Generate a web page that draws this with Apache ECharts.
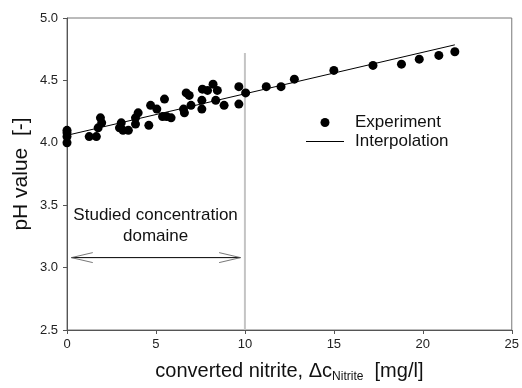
<!DOCTYPE html>
<html>
<head>
<meta charset="utf-8">
<script src="https://cdn.jsdelivr.net/npm/echarts@6/dist/echarts.min.js"></script>
<style>
  html, body { margin: 0; padding: 0; background: #fff; }
  #main { width: 522px; height: 388px; }
</style>
</head>
<body>
<div id="main"></div>
<script>
// measured points: [converted nitrite mg/l, pH]
const experiment = [
  [0, 4.10], [0, 4.08], [0, 4.05], [0, 4.00],
  [1.25, 4.05], [1.65, 4.05], [1.75, 4.12], [1.88, 4.20], [1.95, 4.16],
  [2.95, 4.12], [3.05, 4.16], [3.15, 4.10], [3.45, 4.10], [3.85, 4.15], [3.85, 4.20], [4.0, 4.24],
  [4.6, 4.14], [4.7, 4.30], [5.05, 4.27], [5.48, 4.35], [5.37, 4.21], [5.6, 4.21], [5.85, 4.20],
  [6.6, 4.24], [6.55, 4.27], [6.7, 4.40], [6.87, 4.38], [6.97, 4.30],
  [7.58, 4.34], [7.58, 4.27], [7.61, 4.43], [7.9, 4.42], [8.21, 4.47], [8.45, 4.42], [8.36, 4.34], [8.83, 4.30],
  [9.66, 4.45], [9.66, 4.31], [10.04, 4.40],
  [11.2, 4.45], [12.03, 4.45], [12.78, 4.51], [15.0, 4.58], [17.2, 4.62], [18.8, 4.63],
  [19.8, 4.67], [20.9, 4.70], [21.8, 4.73]
];
const interpolation = [[0, 4.06], [21.8, 4.785]];
const domainLimit = [[10, 2.5], [10, 4.72]];
const arrowShaft = [[0.25, 3.08], [9.75, 3.08]];
const arrowHeadLeft = [[1.45, 3.12], [0.25, 3.08], [1.45, 3.04]];
const arrowHeadRight = [[8.55, 3.12], [9.75, 3.08], [8.55, 3.04]];
const domainLabelPos = [[4.98, 3.335]];

const chart = echarts.init(document.getElementById('main'));
const font = 'Liberation Sans, Arial, sans-serif';

const thin = { color: '#000', width: 1 };

chart.setOption({
  animation: false,
  textStyle: { fontFamily: font },
  grid: { left: 67, right: 8, top: 18, bottom: 55, show: true, borderColor: '#777', borderWidth: 1 },
  legend: {
    orient: 'vertical',
    left: 301, top: 109,
    itemGap: 2,
    itemWidth: 38, itemHeight: 9,
    symbolKeepAspect: true,
    textStyle: { fontSize: 17, color: '#111', padding: [0, 0, 0, 6] },
    data: [
      { name: 'Experiment', icon: 'circle' },
      { name: 'Interpolation', icon: 'path://M0,0 L38,0 L38,1 L0,1 Z' }
    ]
  },
  xAxis: {
    type: 'value', min: 0, max: 25, interval: 5,
    name: 'converted nitrite, Δc{sub|Nitrite}  [mg/l]',
    nameLocation: 'middle', nameGap: 30,
    nameTextStyle: {
      fontSize: 20, color: '#111',
      rich: { sub: { fontSize: 12, color: '#111', padding: [11, 0, 0, 0] } }
    },
    axisLine: { lineStyle: { color: '#555' } },
    axisTick: { inside: false, length: 4, lineStyle: { color: '#555' } },
    axisLabel: { fontSize: 13, color: '#222', margin: 8 },
    splitLine: { show: false }
  },
  yAxis: {
    type: 'value', min: 2.5, max: 5.0, interval: 0.5,
    name: 'pH value  [-]',
    nameLocation: 'middle', nameGap: 35, nameMoveOverlap: false,
    nameTextStyle: { fontSize: 21, color: '#111' },
    axisLine: { show: true, lineStyle: { color: '#555' } },
    axisTick: { show: true, length: 4, lineStyle: { color: '#555' } },
    axisLabel: { fontSize: 13, color: '#222', margin: 9, formatter: v => v.toFixed(1) },
    splitLine: { show: false }
  },
  series: [
    {
      name: 'Domain limit', type: 'line', data: domainLimit, symbol: 'none',
      lineStyle: { color: '#c4c4c4', width: 2 }, silent: true
    },
    {
      name: 'Interpolation', type: 'line', data: interpolation, symbol: 'none',
      lineStyle: thin, itemStyle: { color: '#000' }, z: 3
    },
    {
      name: 'Experiment', type: 'scatter', data: experiment, symbol: 'circle', symbolSize: 9,
      itemStyle: { color: '#000', opacity: 1 }, z: 4
    },
    { name: 'arrow', type: 'line', data: arrowShaft, symbol: 'none', lineStyle: thin, silent: true },
    { name: 'arrowL', type: 'line', data: arrowHeadLeft, symbol: 'none', lineStyle: { color: '#555', width: 0.8 }, silent: true },
    { name: 'arrowR', type: 'line', data: arrowHeadRight, symbol: 'none', lineStyle: { color: '#555', width: 0.8 }, silent: true },
    {
      name: 'label', type: 'scatter', data: domainLabelPos, symbolSize: 0, silent: true,
      itemStyle: { opacity: 1 },
      label: {
        show: true, position: 'inside', formatter: 'Studied concentration\ndomaine',
        fontSize: 17, color: '#111', lineHeight: 21, align: 'center', fontFamily: font
      }
    }
  ]
});
</script>
</body>
</html>
